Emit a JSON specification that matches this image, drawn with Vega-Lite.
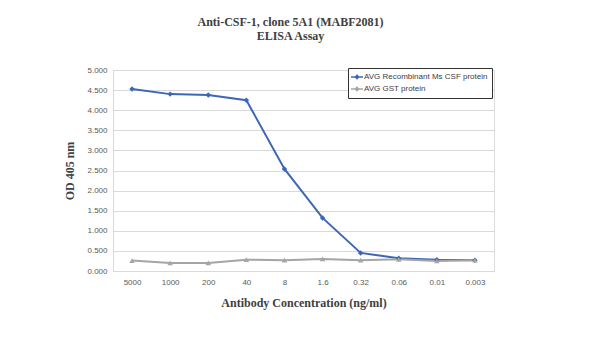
{
  "$schema": "https://vega.github.io/schema/vega-lite/v6.json",
  "width": 381,
  "height": 201,
  "autosize": {"type": "none"},
  "padding": {"left": 113, "top": 70, "right": 106, "bottom": 67},
  "background": "white",
  "title": {
    "text": ["Anti-CSF-1, clone 5A1 (MABF2081)", "ELISA Assay"],
    "font": "Liberation Serif",
    "fontSize": 12,
    "fontWeight": "bold",
    "color": "#404040",
    "lineHeight": 14,
    "anchor": "middle",
    "dx": -13,
    "offset": 23
  },
  "data": {
    "values": [
      {"conc": "5000", "series": "AVG Recombinant Ms CSF protein", "od": 4.53},
      {"conc": "1000", "series": "AVG Recombinant Ms CSF protein", "od": 4.40},
      {"conc": "200", "series": "AVG Recombinant Ms CSF protein", "od": 4.38},
      {"conc": "40", "series": "AVG Recombinant Ms CSF protein", "od": 4.25},
      {"conc": "8", "series": "AVG Recombinant Ms CSF protein", "od": 2.54},
      {"conc": "1.6", "series": "AVG Recombinant Ms CSF protein", "od": 1.32},
      {"conc": "0.32", "series": "AVG Recombinant Ms CSF protein", "od": 0.45},
      {"conc": "0.06", "series": "AVG Recombinant Ms CSF protein", "od": 0.32},
      {"conc": "0.01", "series": "AVG Recombinant Ms CSF protein", "od": 0.28},
      {"conc": "0.003", "series": "AVG Recombinant Ms CSF protein", "od": 0.27},
      {"conc": "5000", "series": "AVG GST protein", "od": 0.26},
      {"conc": "1000", "series": "AVG GST protein", "od": 0.20},
      {"conc": "200", "series": "AVG GST protein", "od": 0.20},
      {"conc": "40", "series": "AVG GST protein", "od": 0.28},
      {"conc": "8", "series": "AVG GST protein", "od": 0.27},
      {"conc": "1.6", "series": "AVG GST protein", "od": 0.30},
      {"conc": "0.32", "series": "AVG GST protein", "od": 0.27},
      {"conc": "0.06", "series": "AVG GST protein", "od": 0.29},
      {"conc": "0.01", "series": "AVG GST protein", "od": 0.25},
      {"conc": "0.003", "series": "AVG GST protein", "od": 0.27}
    ]
  },
  "encoding": {
    "x": {
      "field": "conc",
      "type": "ordinal",
      "sort": ["5000", "1000", "200", "40", "8", "1.6", "0.32", "0.06", "0.01", "0.003"],
      "scale": {"type": "point", "padding": 0.5},
      "axis": {
        "title": "Antibody Concentration  (ng/ml)",
        "titleFont": "Liberation Serif",
        "titleFontSize": 12,
        "titleFontWeight": "bold",
        "titleColor": "#404040",
        "titlePadding": 11,
        "labelAngle": 0,
        "labelFont": "Liberation Sans",
        "labelFontSize": 8,
        "labelColor": "#595959",
        "labelPadding": 7,
        "ticks": false,
        "domainColor": "#D9D9D9",
        "grid": false
      }
    },
    "y": {
      "field": "od",
      "type": "quantitative",
      "scale": {"domain": [0, 5], "nice": false},
      "axis": {
        "title": "OD 405 nm",
        "titleFont": "Liberation Serif",
        "titleFontSize": 12,
        "titleFontWeight": "bold",
        "titleColor": "#404040",
        "titlePadding": 10,
        "values": [0, 0.5, 1, 1.5, 2, 2.5, 3, 3.5, 4, 4.5, 5],
        "format": ".3f",
        "labelFont": "Liberation Sans",
        "labelFontSize": 8,
        "labelColor": "#595959",
        "labelPadding": 6,
        "ticks": false,
        "domainColor": "#D9D9D9",
        "gridColor": "#D9D9D9"
      }
    },
    "color": {
      "field": "series",
      "type": "nominal",
      "sort": ["AVG Recombinant Ms CSF protein", "AVG GST protein"],
      "scale": {"domain": ["AVG Recombinant Ms CSF protein", "AVG GST protein"], "range": ["#3D67B5", "#A5A5A5"]},
      "legend": {
        "title": null,
        "orient": "none",
        "legendX": 235,
        "legendY": -2,
        "strokeColor": "#333333",
        "fillColor": "white",
        "padding": 4,
        "labelFont": "Liberation Sans",
        "labelFontSize": 8,
        "labelColor": "#404040",
        "labelOffset": 2,
        "symbolType": "M-1.5,0H1.5M0,-0.4L0.4,0L0,0.4L-0.4,0Z",
        "symbolSize": 64,
        "symbolStrokeWidth": 1.5,
        "rowPadding": 2
      }
    }
  },
  "layer": [
    {"mark": {"type": "line", "strokeWidth": 2}},
    {
      "transform": [{"filter": "datum.series === 'AVG Recombinant Ms CSF protein'"}],
      "mark": {"type": "point", "filled": true, "size": 30, "opacity": 1, "shape": "diamond"}
    },
    {
      "transform": [{"filter": "datum.series === 'AVG GST protein'"}],
      "mark": {"type": "point", "filled": true, "size": 30, "opacity": 1, "shape": "triangle-up"}
    }
  ]
}
